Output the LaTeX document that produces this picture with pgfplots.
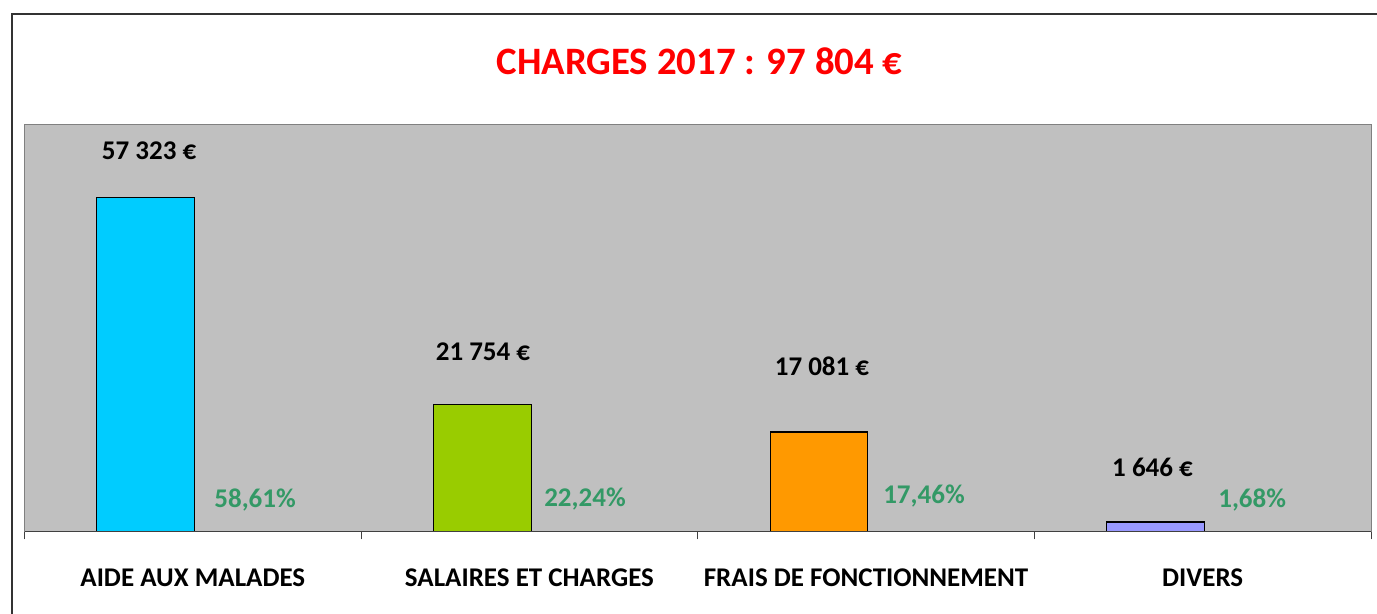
\documentclass[border=0pt]{standalone}
\usepackage{pgfplots}
\pgfplotsset{compat=1.18}
\usepackage{fontspec}
\setmainfont{Carlito}

\definecolor{plotgray}{HTML}{C0C0C0}
\definecolor{titlered}{HTML}{FF0000}
\definecolor{pctgreen}{HTML}{339966}
\definecolor{barcyan}{HTML}{00CCFF}
\definecolor{bargreen}{HTML}{99CC00}
\definecolor{barorange}{HTML}{FF9900}
\definecolor{barviolet}{HTML}{9999FF}

\begin{document}
\begin{tikzpicture}[font=\fontsize{13.5}{16}\selectfont\bfseries]
\useasboundingbox (0,0) rectangle (688.5pt,307pt);
\clip (0,0) rectangle (688.5pt,307pt);
% outer chart frame (right and bottom edges fall outside the picture)
\draw[line width=1pt, draw=black!80] (6pt,-10pt) rectangle (720pt,300pt);
\node[anchor=base, text=titlered, font=\fontsize{19.4}{23}\selectfont\bfseries]
  at (349.75pt,269.5pt) {CHARGES 2017 : 97 804 €};

\begin{axis}[
    at={(12.25pt,41.25pt)}, anchor=south west,
    scale only axis,
    width=673.25pt, height=203.75pt,
    xmin=-0.5, xmax=3.5,
    ymin=0, ymax=70000,
    ytick=\empty,
    xtick={0,1,2,3},
    xticklabels={AIDE AUX MALADES, SALAIRES ET CHARGES, FRAIS DE FONCTIONNEMENT, DIVERS},
    xticklabel style={anchor=base, yshift=-23pt},
    major x tick style={draw=none},
    minor xtick={-0.5,0.5,1.5,2.5,3.5},
    minor tick length=4pt,
    minor x tick style={draw=black!75, line width=0.5pt},
    xtick align=outside,
    tick pos=bottom,
    axis background/.style={fill=plotgray},
    axis line style={draw=gray, line width=0.5pt},
    ybar,
    bar width=0.29,
    clip=false,
]
\addplot[fill=barcyan, draw=black, line width=0.6pt, bar shift=-0.14] coordinates {(0,57323)};
\addplot[fill=bargreen, draw=black, line width=0.6pt, bar shift=-0.14] coordinates {(1,21754)};
\addplot[fill=barorange, draw=black, line width=0.6pt, bar shift=-0.14] coordinates {(2,17081)};
\addplot[fill=barviolet, draw=black, line width=0.6pt, bar shift=-0.14] coordinates {(3,1646)};

\draw[black!75, line width=0.6pt] (rel axis cs:0,0) -- (rel axis cs:1,0);

% value labels
\node at (axis cs:-0.13,65360) {57 323 €};
\node at (axis cs:0.862,30830) {21 754 €};
\node at (axis cs:1.869,28430) {17 081 €};
\node at (axis cs:2.851,11080) {1 646 €};
% share labels
\node[text=pctgreen] at (axis cs:0.185,5410) {58,61\%};
\node[text=pctgreen] at (axis cs:1.165,5580) {22,24\%};
\node[text=pctgreen] at (axis cs:2.172,6100) {17,46\%};
\node[text=pctgreen] at (axis cs:3.147,5410) {1,68\%};
\end{axis}
\end{tikzpicture}
\end{document}
